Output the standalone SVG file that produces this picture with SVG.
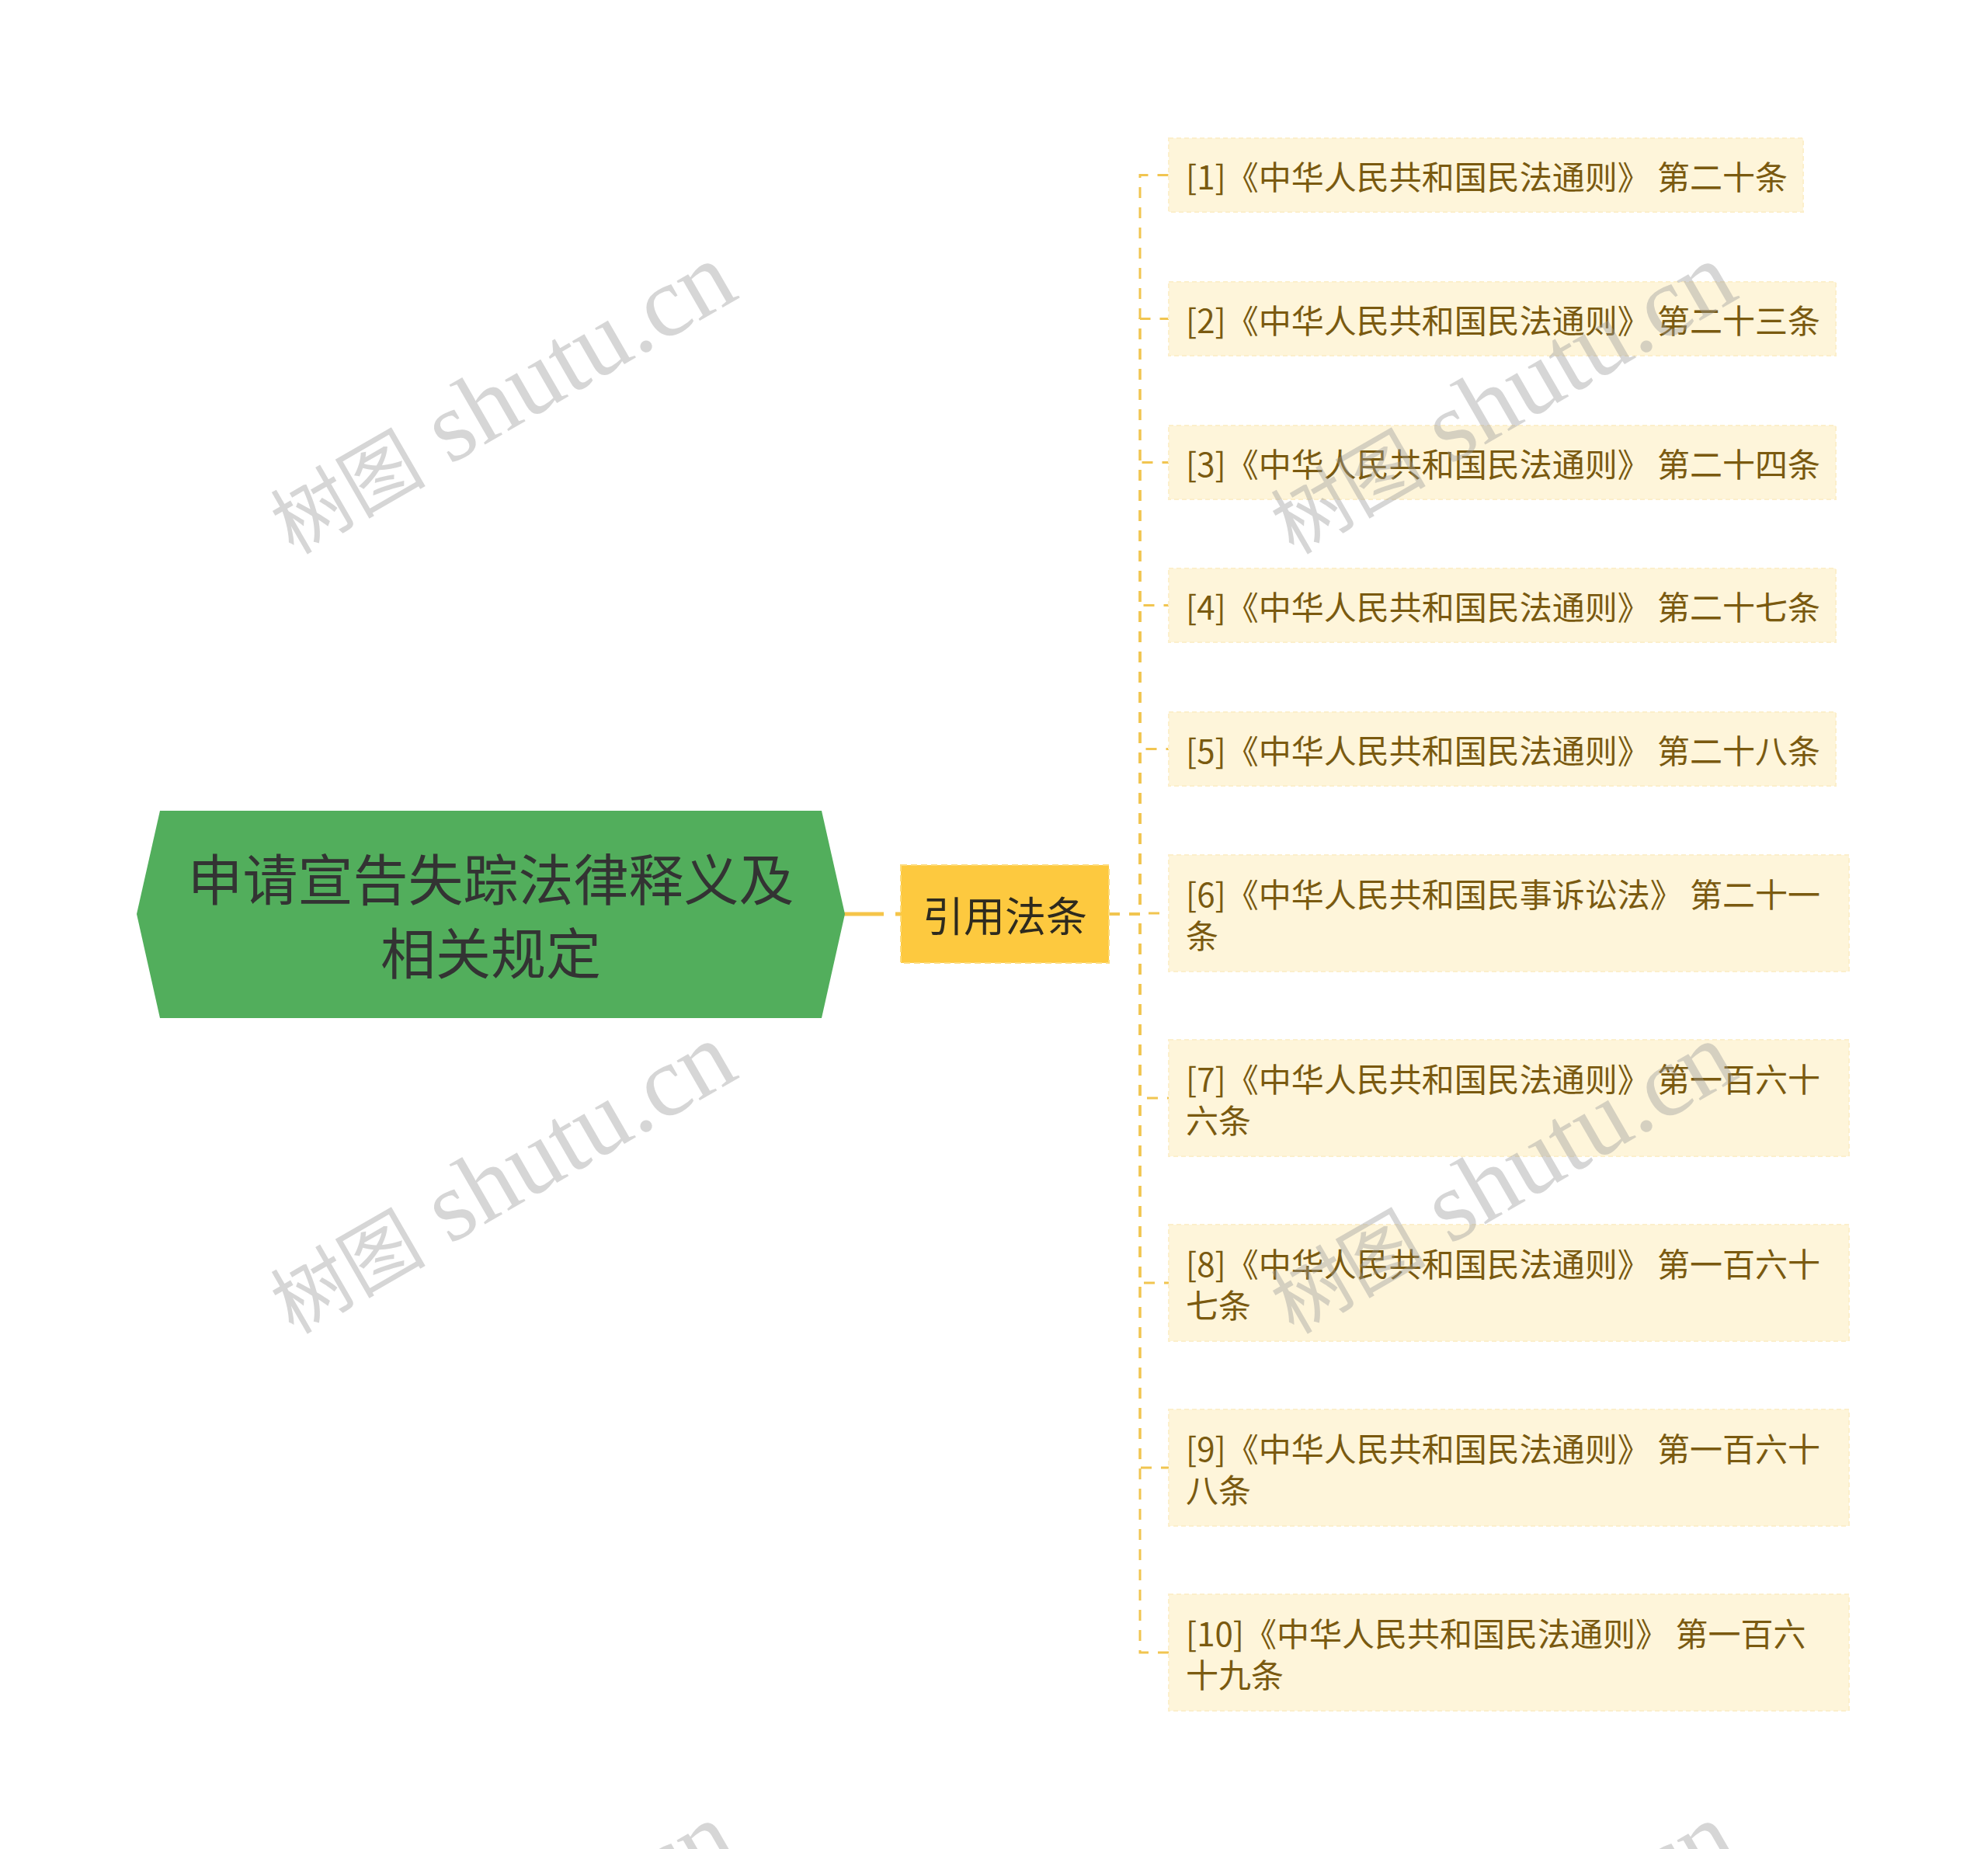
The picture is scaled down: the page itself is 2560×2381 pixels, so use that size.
<svg xmlns="http://www.w3.org/2000/svg" width="2560" height="2381" viewBox="0 0 2560 2381">
<style>
.conn{fill:none;stroke:#f1c550;stroke-width:3;stroke-dasharray:14 12}
.main{fill:none;stroke:#f5c54a;stroke-width:5;stroke-dasharray:52 15}
.leaf rect{fill:#fef5da;stroke:#fcefcb;stroke-width:2;stroke-dasharray:6 4}
.leaf text{font-family:"Noto Sans CJK SC","Noto Sans",sans-serif;font-size:42px;fill:#7a5a10;dominant-baseline:central}
.wm{font-family:"Liberation Serif","Noto Sans CJK SC",serif;font-size:129px;fill:#999999;fill-opacity:0.4;text-anchor:middle}
.wm .cj{font-size:100px}
</style>
<rect width="2560" height="2381" fill="#ffffff"/>
<g id="connectors">
<path class="main" d="M1086 1177 H1160"/>
<path class="conn" d="M1428 1177 H1468 V225.5 H1505"/>
<path class="conn" d="M1428 1177 H1468 V410.5 H1505"/>
<path class="conn" d="M1428 1177 H1468 V595.5 H1505"/>
<path class="conn" d="M1428 1177 H1468 V779.5 H1505"/>
<path class="conn" d="M1428 1177 H1468 V964.5 H1505"/>
<path class="conn" d="M1428 1177 H1468 V1176 H1505"/>
<path class="conn" d="M1428 1177 H1468 V1414 H1505"/>
<path class="conn" d="M1428 1177 H1468 V1652 H1505"/>
<path class="conn" d="M1428 1177 H1468 V1890 H1505"/>
<path class="conn" d="M1428 1177 H1468 V2128 H1505"/>
</g>
<g id="root">
<polygon points="176,1177 206,1044 1058,1044 1088,1177 1058,1311 206,1311" fill="#52ae5c"/>
<text x="632" y="1128" font-family="'Noto Sans CJK SC','Noto Sans',sans-serif" font-size="71" fill="#333333" text-anchor="middle" dominant-baseline="central">申请宣告失踪法律释义及</text>
<text x="632" y="1223" font-family="'Noto Sans CJK SC','Noto Sans',sans-serif" font-size="71" fill="#333333" text-anchor="middle" dominant-baseline="central">相关规定</text>
</g>
<g id="topic">
<rect x="1160" y="1114" width="268" height="126" fill="#fdc93f" stroke="#fddb7a" stroke-width="2" stroke-dasharray="8 5"/>
<text x="1294" y="1177" font-family="'Noto Sans CJK SC','Noto Sans',sans-serif" font-size="53" fill="#2e2a1e" text-anchor="middle" dominant-baseline="central">引用法条</text>
</g>
<g id="leaf1" class="leaf"><rect x="1505" y="178" width="817" height="95"/><text x="1527" y="225.5">[1]《中华人民共和国民法通则》 第二十条</text></g>
<g id="leaf2" class="leaf"><rect x="1505" y="363" width="859" height="95"/><text x="1527" y="410.5">[2]《中华人民共和国民法通则》 第二十三条</text></g>
<g id="leaf3" class="leaf"><rect x="1505" y="548" width="859" height="95"/><text x="1527" y="595.5">[3]《中华人民共和国民法通则》 第二十四条</text></g>
<g id="leaf4" class="leaf"><rect x="1505" y="732" width="859" height="95"/><text x="1527" y="779.5">[4]《中华人民共和国民法通则》 第二十七条</text></g>
<g id="leaf5" class="leaf"><rect x="1505" y="917" width="859" height="95"/><text x="1527" y="964.5">[5]《中华人民共和国民法通则》 第二十八条</text></g>
<g id="leaf6" class="leaf"><rect x="1505" y="1101" width="876" height="150"/><text x="1527" y="1149.5">[6]《中华人民共和国民事诉讼法》 第二十一</text><text x="1527" y="1202.5">条</text></g>
<g id="leaf7" class="leaf"><rect x="1505" y="1339" width="876" height="150"/><text x="1527" y="1387.5">[7]《中华人民共和国民法通则》 第一百六十</text><text x="1527" y="1440.5">六条</text></g>
<g id="leaf8" class="leaf"><rect x="1505" y="1577" width="876" height="150"/><text x="1527" y="1625.5">[8]《中华人民共和国民法通则》 第一百六十</text><text x="1527" y="1678.5">七条</text></g>
<g id="leaf9" class="leaf"><rect x="1505" y="1815" width="876" height="150"/><text x="1527" y="1863.5">[9]《中华人民共和国民法通则》 第一百六十</text><text x="1527" y="1916.5">八条</text></g>
<g id="leaf10" class="leaf"><rect x="1505" y="2053" width="876" height="150"/><text x="1527" y="2101.5">[10]《中华人民共和国民法通则》 第一百六</text><text x="1527" y="2154.5">十九条</text></g>
<g id="watermarks">
<text class="wm" transform="translate(646,514) rotate(-30)" y="40"><tspan class="cj">树图</tspan> shutu.cn</text>
<text class="wm" transform="translate(1934,514) rotate(-30)" y="40"><tspan class="cj">树图</tspan> shutu.cn</text>
<text class="wm" transform="translate(646,1518) rotate(-30)" y="40"><tspan class="cj">树图</tspan> shutu.cn</text>
<text class="wm" transform="translate(1934,1518) rotate(-30)" y="40"><tspan class="cj">树图</tspan> shutu.cn</text>
<text class="wm" transform="translate(646,2522) rotate(-30)" y="40"><tspan class="cj">树图</tspan> shutu.cn</text>
<text class="wm" transform="translate(1934,2522) rotate(-30)" y="40"><tspan class="cj">树图</tspan> shutu.cn</text>
</g>
</svg>
